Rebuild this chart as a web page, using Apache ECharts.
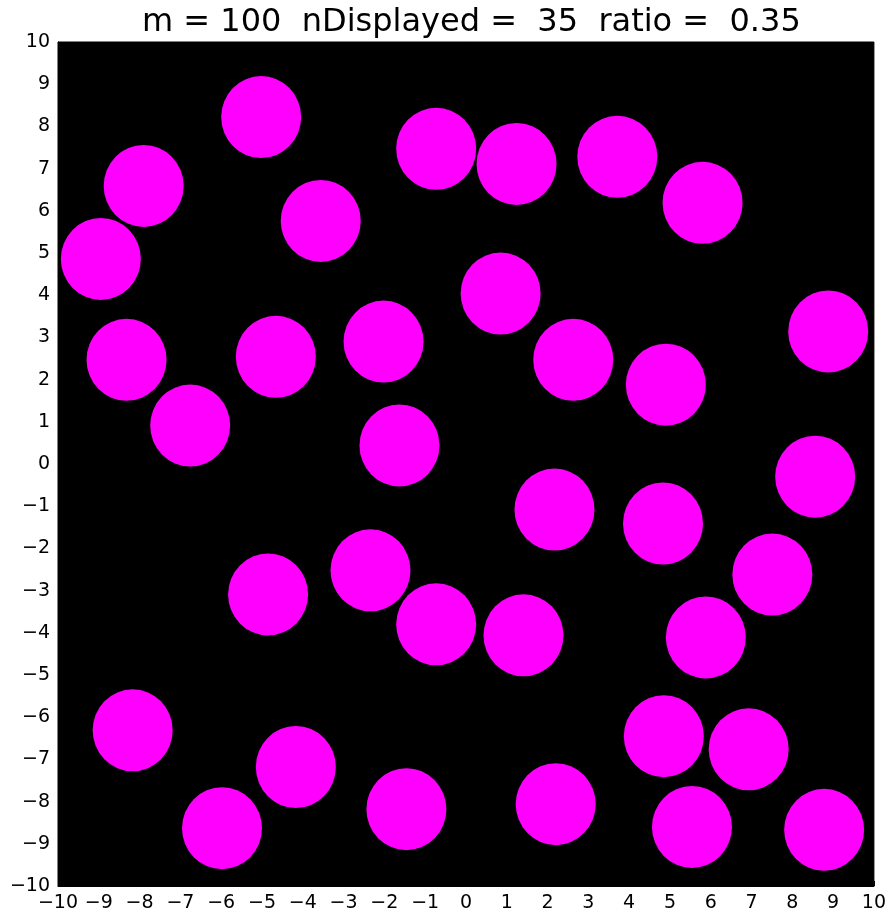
<!DOCTYPE html>
<html>
<head>
<meta charset="utf-8">
<script src="https://cdn.jsdelivr.net/npm/echarts@6/dist/echarts.min.js"></script>
<style>
html,body{margin:0;padding:0;background:#fff;}
#chart{width:889px;height:913px;}
</style>
</head>
<body>
<div id="chart"></div>
<script>
const titleText = 'm = 100  nDisplayed =  35  ratio =  0.35';
const xValues = [-5.02,-7.90,-8.95,-3.56,-0.73,1.24,3.71,5.80,0.85,8.88,-8.32,-4.66,-2.02,2.63,4.90,-6.76,-1.63,8.56,2.17,4.83,7.51,-2.34,-4.85,-0.73,1.41,5.88,-8.17,-4.17,4.85,6.93,-5.98,-1.46,2.20,5.54,8.78];
const yValues = [8.22,6.59,4.86,5.76,7.47,7.11,7.28,6.19,4.04,3.14,2.47,2.54,2.90,2.47,1.88,0.91,0.44,-0.30,-1.08,-1.41,-2.62,-2.52,-3.09,-3.80,-4.06,-4.11,-6.31,-7.18,-6.45,-6.76,-8.63,-8.18,-8.06,-8.60,-8.67];
const axisMin = -10, axisMax = 10, axisStep = 1;

const points = xValues.map((x, i) => [x, yValues[i]]);
const chart = echarts.init(document.getElementById('chart'), null, {renderer: 'canvas'});
const fmt = v => String(v).replace('-', '\u2212');
const axisCommon = {
  min: axisMin, max: axisMax, interval: axisStep,
  splitLine: {show: false},
  axisLine: {show: true, onZero: false, lineStyle: {color: '#000', width: 1}},
  axisTick: {show: true, inside: true, length: 5, lineStyle: {color: '#000'}},
  axisLabel: {color: '#000', fontFamily: 'DejaVu Sans', fontSize: 19, formatter: fmt}
};
chart.setOption({
  animation: false,
  backgroundColor: '#fff',
  title: {
    text: titleText, left: 137, top: 2,
    textStyle: {fontFamily: 'DejaVu Sans', fontSize: 32, fontWeight: 'normal', color: '#000'}
  },
  grid: {left: 58, right: 11, top: 42, bottom: 26, show: true, backgroundColor: '#000', borderColor: '#000', borderWidth: 1},
  xAxis: Object.assign({type: 'value'}, axisCommon, {axisLabel: Object.assign({}, axisCommon.axisLabel, {margin: 8})}),
  yAxis: Object.assign({type: 'value'}, axisCommon, {axisLabel: Object.assign({}, axisCommon.axisLabel, {margin: 8})}),
  series: [{
    type: 'scatter',
    data: points,
    symbol: 'circle',
    symbolSize: [80, 82],
    itemStyle: {color: '#ff00ff', opacity: 1},
    emphasis: {disabled: true}
  }]
});
</script>
</body>
</html>
